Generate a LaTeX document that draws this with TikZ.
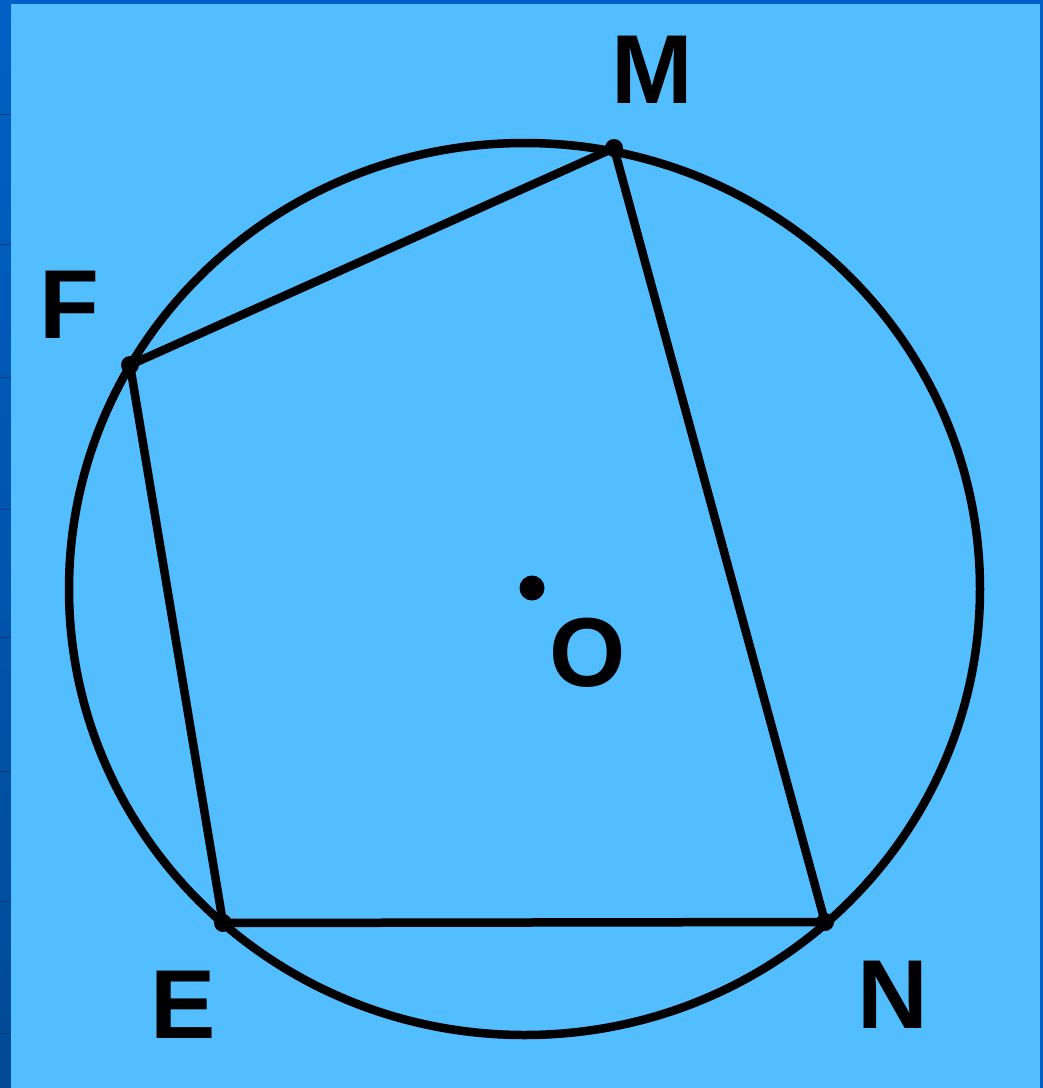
\documentclass[tikz,border=0pt]{standalone}
\usepackage{fontspec}
\setmainfont{Liberation Sans}
\usetikzlibrary{shapes.geometric}
\definecolor{bgblue}{RGB}{82,190,255}
\definecolor{frameblue}{RGB}{0,96,196}
\definecolor{framedark}{RGB}{0,74,150}
\begin{document}
\begin{tikzpicture}[x=1pt,y=-1pt,
  lbl/.style={font=\fontsize{98}{100}\selectfont\bfseries, text=black, inner sep=0pt, anchor=base},
  edge/.style={line width=8.5pt, line cap=round, line join=round},
  vdot/.style={circle, fill=black, inner sep=0pt, minimum size=18pt}]
\useasboundingbox (0,0) rectangle (1043,1088);
% background and slide frame
\fill[frameblue] (0,0) rectangle (1043,1088);
\shade[top color=frameblue, bottom color=framedark] (0,0) rectangle (11,1088);
\foreach \yy in {114,244,377,509,637,771,901,1033}
  \draw[line width=1pt, color=framedark!80!black] (0,\yy) -- (11,\yy);
\fill[bgblue] (11,4) rectangle (1040,1088);
% circle
\node[draw, line width=8.5pt, ellipse, minimum width=911pt, minimum height=892pt, inner sep=0pt] (circ) at (524.5,589) {};
% vertices
\coordinate (M) at (614,148);
\coordinate (F) at (130,365);
\coordinate (E) at (223,923);
\coordinate (N) at (825,922);
\draw[edge] (M) -- (N) -- (E) -- (F) -- cycle;
\foreach \p in {M,F,E,N} \node[vdot] at (\p) {};
% centre
\node[circle, fill=black, inner sep=0pt, minimum size=25pt] (O) at (532,588) {};
% labels
\node[lbl] (lM) at (652,103) {M};
\node[lbl] (lF) at (69,338) {F};
\node[lbl] (lE) at (183,1038) {E};
\node[lbl] (lN) at (893,1028) {N};
\node[lbl] (lO) at (588,686) {O};
\end{tikzpicture}
\end{document}
